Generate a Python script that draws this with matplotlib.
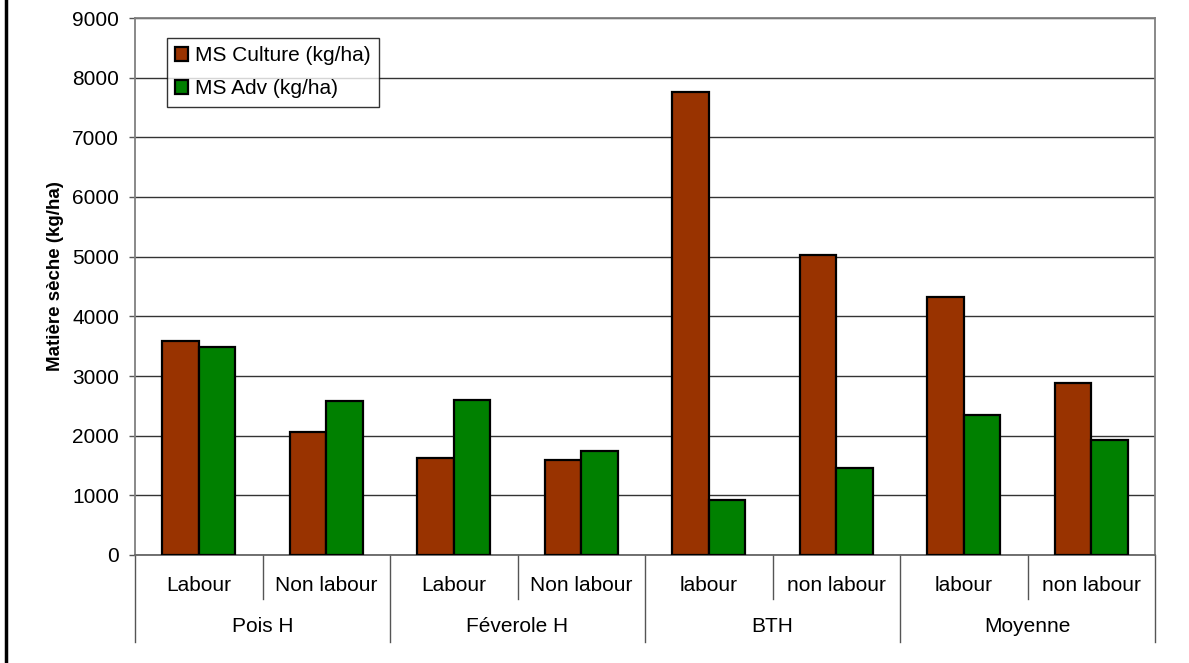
import numpy as np
import matplotlib
matplotlib.use("Agg")
import matplotlib.pyplot as plt
import matplotlib.transforms as mtransforms
from matplotlib.lines import Line2D

plt.rcParams['font.family'] = ['Liberation Sans', 'DejaVu Sans']

# Données : matière sèche par culture et mode de travail du sol
cultures = ['Pois H', 'Féverole H', 'BTH', 'Moyenne']
modes = ['Labour', 'Non labour', 'Labour', 'Non labour',
         'labour', 'non labour', 'labour', 'non labour']
ms_culture = [3590, 2055, 1620, 1585, 7755, 5020, 4325, 2880]
ms_adv = [3490, 2575, 2600, 1735, 930, 1450, 2340, 1925]

fig = plt.figure(figsize=(11.89, 6.63), dpi=100)
ax = fig.add_axes([135/1189, 1-555/663, 1020/1189, 537/663])

x = np.arange(len(modes))
w = 0.286
ax.bar(x - w/2, ms_culture, w, color='#993300', edgecolor='black', linewidth=1.6,
       label='MS Culture (kg/ha)', zorder=3)
ax.bar(x + w/2, ms_adv, w, color='#008000', edgecolor='black', linewidth=1.6,
       label='MS Adv (kg/ha)', zorder=3)

ax.set_xlim(-0.5, len(modes) - 0.5)
ax.set_ylim(0, 9000)
ax.set_yticks(np.arange(0, 9001, 1000))
ax.tick_params(axis='y', labelsize=15, length=4.5, width=1, color='#555555', pad=7)
ax.set_xticks([])
ax.yaxis.grid(True, color='#333333', linewidth=1.0, zorder=0)
ax.set_axisbelow(True)
for s in ['top', 'right', 'left']:
    ax.spines[s].set_color('#808080')
    ax.spines[s].set_linewidth(1.3)
ax.spines['bottom'].set_color('#666666')
ax.spines['bottom'].set_linewidth(1.3)

ax.set_ylabel('Matière sèche (kg/ha)', fontsize=13.5, fontweight='bold',
              ha='center', va='center')
ax.yaxis.set_label_coords(-0.078, 0.52)

# Axe des catégories à deux niveaux
trans = mtransforms.blended_transform_factory(ax.transData, ax.transAxes)
for i in range(len(modes) + 1):
    xb = i - 0.5
    y_end = -0.162 if i % 2 == 0 else -0.082
    ax.add_line(Line2D([xb, xb], [0, y_end], transform=trans, color='#555555',
                       linewidth=1.0, clip_on=False))
for i, m in enumerate(modes):
    ax.text(i, -0.056, m, transform=trans, ha='center', va='center', fontsize=15)
for j, c in enumerate(cultures):
    ax.text(2*j + 0.5, -0.134, c, transform=trans, ha='center', va='center', fontsize=15)

leg = ax.legend(loc='upper left', bbox_to_anchor=(0.031, 0.963), borderaxespad=0,
                fontsize=15, frameon=True, fancybox=False, handlelength=0.65,
                handleheight=0.65, handletextpad=0.3, labelspacing=0.68,
                borderpad=0.4)
leg.get_frame().set_edgecolor('black')
leg.get_frame().set_linewidth(1.0)

# Bordure gauche du cadre
fig.add_artist(Line2D([6/1189, 6/1189], [0, 1], transform=fig.transFigure,
                      color='black', linewidth=2.5))

fig.savefig('out.png', dpi=100)
